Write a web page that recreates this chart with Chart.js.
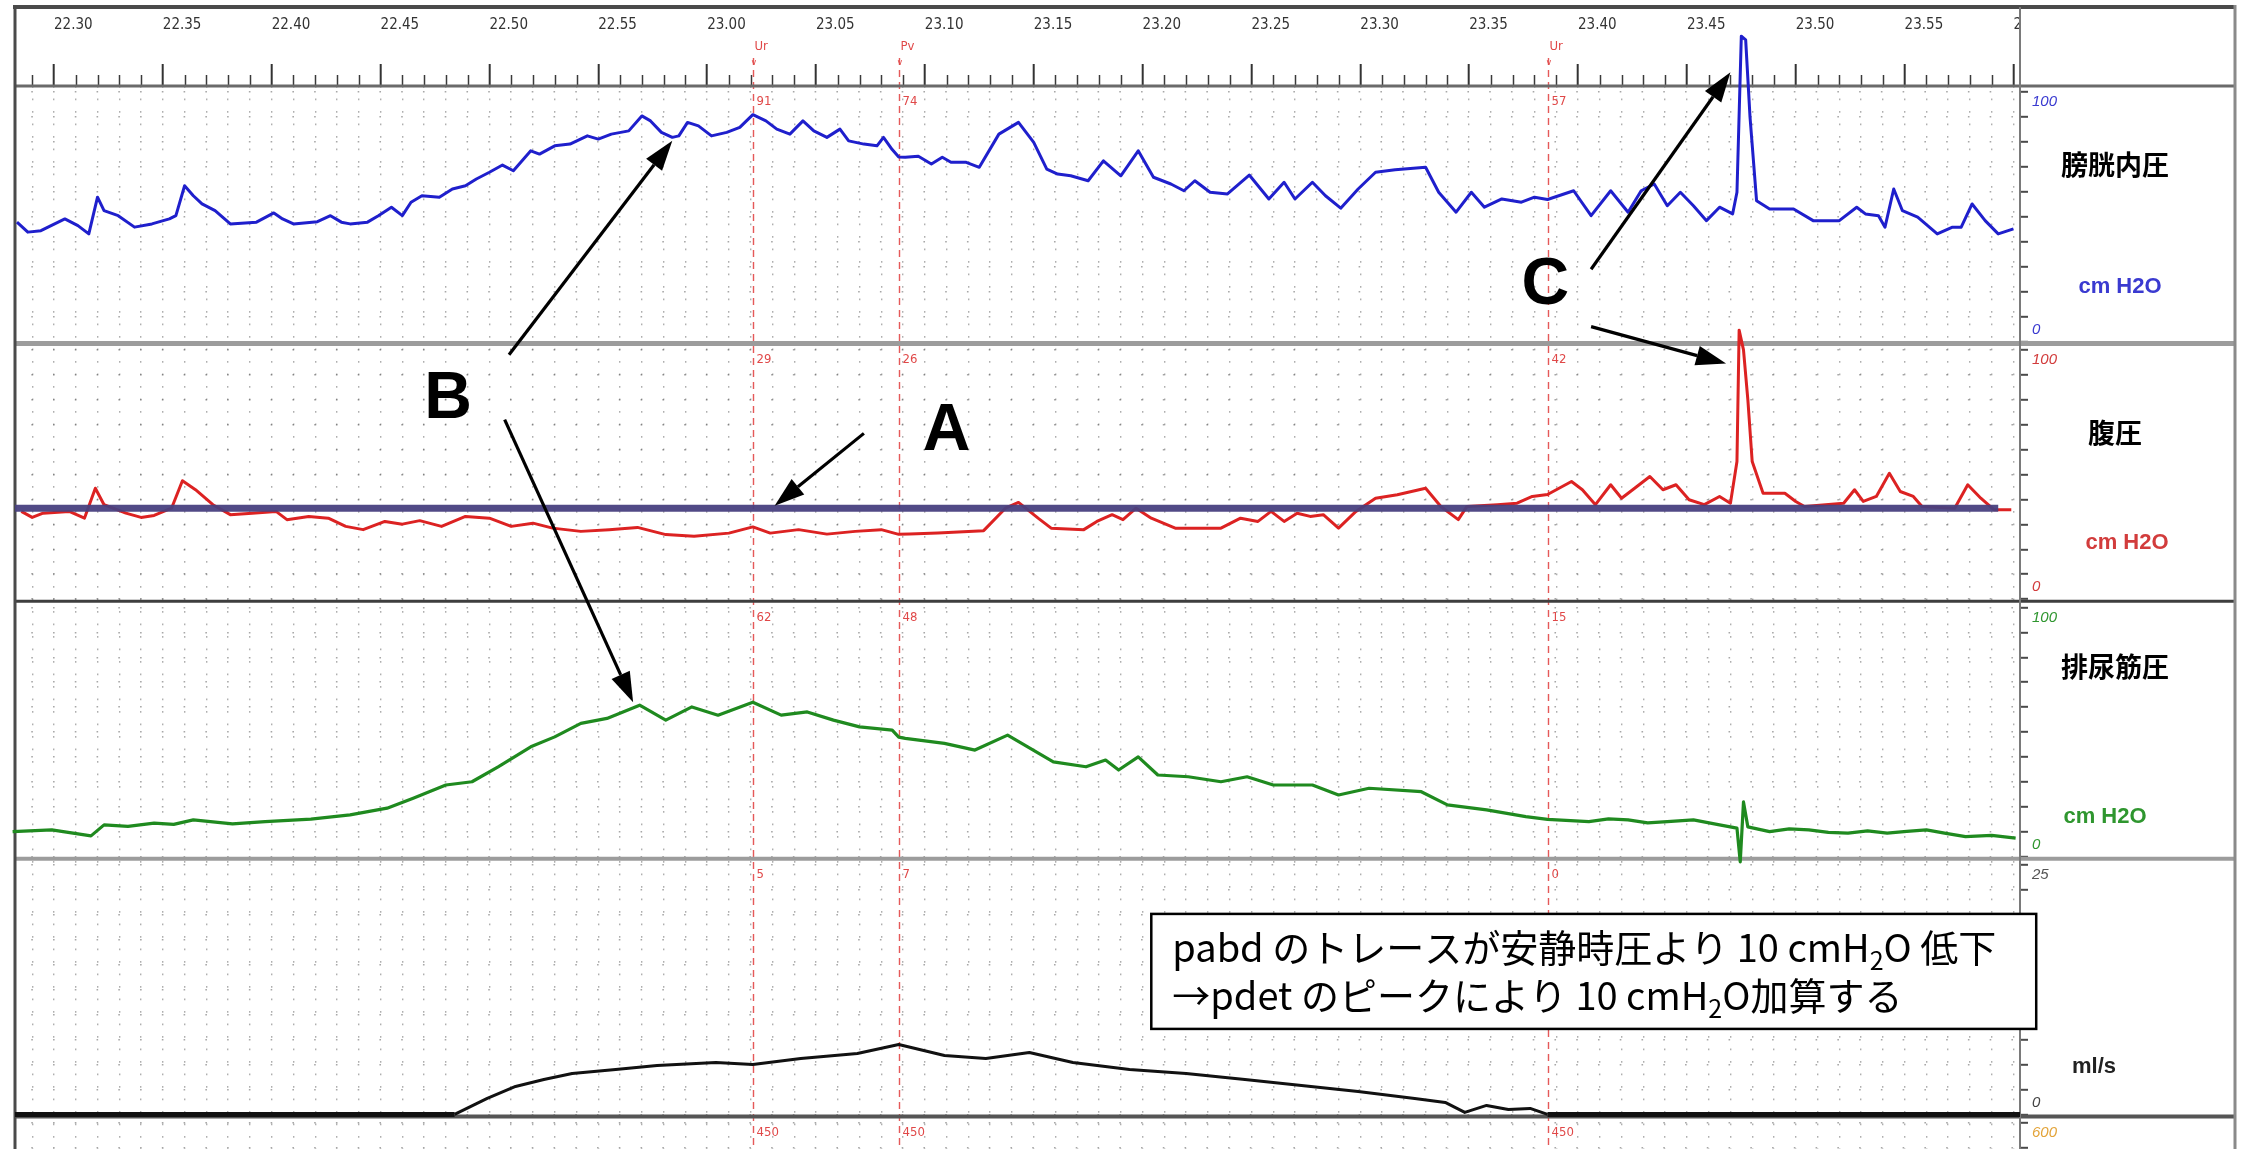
<!DOCTYPE html>
<html lang="ja">
<head>
<meta charset="utf-8">
<title>尿流動態検査 トレース</title>
<script src="https://cdn.jsdelivr.net/npm/chart.js@4.4.1/dist/chart.umd.min.js"></script>
<style>
  html, body { margin: 0; padding: 0; background: #fff; overflow: hidden; }
  #wrap { position: relative; width: 2246px; height: 1374px; }
  canvas { display: block; }
</style>
</head>
<body>
<div id="wrap"><canvas id="uds" width="2246" height="1374"></canvas></div>
<script>
// Time is in seconds from the start of the study (22.30 -> 22 min 30 s = 1350 s).
const timeRange = [1348.21, 1440.3];

// Bladder pressure (pves), cmH2O
const pvesTrace = [
  [1348.3,47.9],[1348.8,43.9],[1349.4,44.5],[1350.5,49.2],[1351.1,46.5],[1351.6,43.2],[1352.0,57.9],[1352.3,52.5],
  [1352.95,50.5],[1353.7,45.9],[1354.5,47.2],[1355.3,49.2],[1355.6,50.5],[1356.0,62.5],[1356.4,58.5],[1356.8,55.2],
  [1357.4,52.5],[1358.1,47.2],[1359.3,47.9],[1360.1,51.6],[1360.5,49.2],[1361.0,47.2],[1362.1,48.1],[1362.7,50.5],
  [1363.2,47.9],[1363.6,47.2],[1364.4,47.9],[1364.9,50.5],[1365.5,53.9],[1366.0,50.5],[1366.4,55.9],[1366.9,58.5],
  [1367.7,57.9],[1368.3,61.2],[1368.9,62.5],[1369.4,65.2],[1370.0,67.9],[1370.6,70.8],[1371.1,68.5],[1371.9,76.5],
  [1372.3,75.2],[1373.0,78.5],[1373.7,79.2],[1374.5,82.5],[1375.0,81.2],[1375.6,83.2],[1376.4,84.5],[1377.0,90.5],
  [1377.4,88.5],[1377.9,83.9],[1378.4,81.9],[1378.7,82.5],[1379.1,87.9],[1379.6,86.5],[1380.2,82.5],[1380.9,83.9],
  [1381.5,85.9],[1382.1,91],[1382.7,88.5],[1383.2,85.2],[1383.8,83.2],[1384.4,88.5],[1384.9,84.5],[1385.5,81.9],
  [1386.1,85.2],[1386.5,80.5],[1387.2,79.2],[1387.8,78.5],[1388.1,81.9],[1388.5,77],[1388.8,74],[1389.1,73.9],
  [1389.7,74.3],[1390.3,71.2],[1390.8,73.9],[1391.2,71.9],[1391.9,71.9],[1392.5,69.9],[1393.4,83.2],[1394.3,87.9],
  [1395.0,79.9],[1395.6,69.2],[1396.1,67.2],[1396.7,66.5],[1397.5,64.5],[1398.2,72.5],[1399.0,66.5],[1399.8,76.5],
  [1400.5,65.9],[1401.3,63.2],[1401.9,60.5],[1402.4,64.5],[1403.1,59.9],[1403.9,59.2],[1404.9,66.8],[1405.8,57.2],
  [1406.5,63.9],[1407.0,57.2],[1407.8,63.9],[1408.4,58.5],[1409.1,53.5],[1409.9,61.2],[1410.7,67.9],[1411.6,68.9],
  [1413.0,69.9],[1413.6,59.9],[1414.4,51.9],[1415.1,59.9],[1415.7,53.9],[1416.5,57.2],[1417.4,55.9],[1418.0,57.9],
  [1418.6,57],[1419.8,60.5],[1420.6,50.5],[1421.5,60.5],[1422.3,51.9],[1422.9,60.5],[1423.5,63.2],[1424.1,54.5],
  [1424.7,59.9],[1425.3,54.5],[1425.9,48.5],[1426.5,53.9],[1427.1,51.2],[1427.3,59.9],[1427.5,122.5],[1427.7,121],
  [1427.9,90],[1428.2,56.5],[1428.8,53.2],[1429.9,53.2],[1430.8,48.5],[1432.0,48.5],[1432.8,53.9],[1433.2,51.2],
  [1433.8,50.5],[1434.1,45.9],[1434.5,61.2],[1434.9,52.5],[1435.6,49.9],[1436.5,43.2],[1437.2,45.9],[1437.6,45.9],
  [1438.1,55.2],[1438.7,48.5],[1439.3,43.2],[1440.0,45.2]
];

// Abdominal pressure (pabd), cmH2O
const pabdTrace = [
  [1348.5,35.2],[1349.0,32.8],[1349.5,34.5],[1350.7,35.2],[1351.4,32.5],[1351.9,44.5],[1352.3,37.9],[1353.3,34.5],
  [1354.0,32.8],[1354.6,33.6],[1355.4,36.5],[1355.9,47.5],[1356.5,43.9],[1357.3,37.9],[1358.1,33.9],[1359.1,34.5],
  [1360.2,35.2],[1360.7,31.9],[1361.7,33.2],[1362.6,32.5],[1363.4,29.2],[1364.2,27.9],[1365.2,31.2],[1366.0,30.1],
  [1366.8,31.5],[1367.8,29.2],[1368.9,33.2],[1370.0,32.5],[1371.0,29.2],[1372.0,30.5],[1372.9,28.5],[1374.2,27.2],
  [1375.5,27.9],[1376.8,28.8],[1378.1,25.9],[1379.4,25.2],[1381.0,26.5],[1382.1,29],[1382.9,26.5],[1384.2,27.9],
  [1385.5,26.1],[1386.8,27.2],[1388.0,27.9],[1388.8,26],[1389.3,26.1],[1390.6,26.5],[1392.7,27.5],[1393.7,36.5],
  [1394.3,38.8],[1395.2,32.5],[1395.8,28.5],[1397.3,27.9],[1397.9,31.2],[1398.6,33.9],[1399.1,31.9],[1399.7,36.5],
  [1400.4,32.5],[1401.5,28.5],[1403.6,28.5],[1404.5,32.5],[1405.3,31.2],[1405.9,35.2],[1406.5,31.2],[1407.1,34.5],
  [1407.7,33.2],[1408.3,33.9],[1409.0,28.5],[1409.8,35.2],[1410.7,40.5],[1411.7,41.9],[1413.0,44.5],[1413.7,37.2],
  [1414.5,31.9],[1414.9,37.2],[1416.3,37.9],[1417.2,38.5],[1417.9,41.2],[1418.6,42],[1419.7,47.2],[1420.2,43.9],
  [1420.8,37.9],[1421.5,45.9],[1422.0,40.5],[1422.6,44.5],[1423.3,49.2],[1423.9,43.9],[1424.5,45.9],[1425.1,39.9],
  [1425.8,37.9],[1426.5,41.2],[1427.0,38.5],[1427.3,55.2],[1427.4,107.9],[1427.6,100],[1427.8,80],[1428.0,55.2],
  [1428.5,42.5],[1429.5,42.5],[1430.0,39.2],[1430.4,37.2],[1432.2,38.5],[1432.7,43.9],[1433.1,39.2],[1433.7,41.2],
  [1434.3,50.5],[1434.8,43.2],[1435.4,41.2],[1435.8,37.2],[1437.3,36.5],[1437.9,45.9],[1438.5,40.5],[1439.1,35.9],
  [1439.9,35.9]
];

// Resting abdominal pressure reference line
const pabdRestLevel = 36.5;
const pabdRestSpan = [1348.21, 1439.3];

// Detrusor pressure (pdet), cmH2O
const pdetTrace = [
  [1348.1,10.1],[1349.9,10.8],[1351.7,8.4],[1352.3,12.8],[1353.4,12.2],[1354.6,13.5],[1355.5,13.0],[1356.4,14.8],
  [1358.2,13.2],[1359.7,14.1],[1361.8,15.1],[1363.6,16.8],[1365.3,19.5],[1366.5,23.5],[1368.0,28.8],[1369.2,30.1],
  [1370.4,36.1],[1371.9,44.1],[1373.0,48.1],[1374.2,53.5],[1375.4,55.5],[1376.9,60.8],[1378.1,54.8],[1379.3,60.1],
  [1380.5,56.8],[1382.1,62],[1383.4,56.8],[1384.6,58.1],[1385.8,54.8],[1387.0,52.1],[1388.5,50.8],[1388.8,48],
  [1389.1,47.5],[1390.9,45.5],[1392.3,42.8],[1393.8,48.8],[1395.9,38.1],[1397.4,36.1],[1398.3,38.8],[1398.9,34.8],
  [1399.8,40.1],[1400.7,32.8],[1402.1,32.1],[1403.6,30.1],[1404.8,32.1],[1406.0,28.8],[1407.8,28.8],[1409.0,24.8],
  [1410.4,27.5],[1412.8,26.1],[1414.0,20.8],[1415.8,18.8],[1417.6,16.1],[1418.6,15],[1420.5,14.1],[1421.4,15.2],
  [1422.3,14.8],[1423.2,13.6],[1424.1,14.1],[1425.3,14.8],[1426.5,12.8],[1427.3,11.5],[1427.45,-2],[1427.6,22],
  [1427.8,12],[1428.8,10.1],[1429.7,11.2],[1430.6,10.8],[1431.5,9.8],[1432.4,9.5],[1433.3,10.4],[1434.2,9.5],
  [1435.1,10.2],[1436.0,10.8],[1436.9,9.4],[1437.8,8.1],[1439.0,8.6],[1440.1,7.5]
];

// Urine flow, ml/s
const flowTrace = [
  [1348.21,0],[1368.4,0],[1369.9,1.6],[1371.2,2.8],[1372.5,3.5],[1373.8,4.1],[1375.8,4.5],[1377.7,4.9],
  [1380.4,5.2],[1382.1,5],[1384.3,5.6],[1386.9,6.1],[1388.8,7],[1390.9,5.9],[1392.8,5.6],[1394.8,6.2],
  [1396.8,5.2],[1399.4,4.5],[1402.0,4.1],[1404.7,3.5],[1407.3,2.9],[1409.9,2.3],[1412.5,1.6],[1413.9,1.2],
  [1414.8,0.2],[1415.8,0.9],[1416.8,0.5],[1417.8,0.6],[1418.6,0],[1419.4,0],[1440.3,0]
];

// Event markers and the values printed at each marker
const markerTimes = [1382.1, 1388.8, 1418.6];
const markerTags = ['Ur', 'Pv', 'Ur'];
const markerPves = [91, 74, 57];
const markerPabd = [29, 26, 42];
const markerPdet = [62, 48, 15];
const markerFlow = [5, 7, 0];
const markerVolume = [450, 450, 450];

// Channel captions in the right-hand column
const channelNames = ['膀胱内圧', '腹圧', '排尿筋圧', '', ''];
const channelUnits = ['cm H2O', 'cm H2O', 'cm H2O', 'ml/s', ''];
const channelTopLabels = ['100', '100', '100', '25', '600'];
const channelZeroLabels = ['0', '0', '0', '0', ''];

// Callout annotations, positioned in data space: [time, value, axis]
const calloutLetters = [
  { text: 'A', at: [1391.0, 68.5, 'yPabd'] },
  { text: 'B', at: [1368.1, 81, 'yPabd'] },
  { text: 'C', at: [1418.5, 23.5, 'yPves'] }
];
const calloutArrows = [
  { from: [1387.2, 66.5, 'yPabd'], to: [1383.1, 37.5, 'yPabd'] },
  { from: [1370.9, 98, 'yPabd'], to: [1378.4, 80.5, 'yPves'] },
  { from: [1370.7, 72, 'yPabd'], to: [1376.6, 62, 'yPdet'] },
  { from: [1420.6, 29, 'yPves'], to: [1427.0, 108, 'yPves'] },
  { from: [1420.6, 6, 'yPves'], to: [1426.8, 94.5, 'yPabd'] }
];
const noteLines = [
  ['pabd のトレースが安静時圧より 10 cmH', '2', 'O 低下'],
  ['→pdet のピークにより 10 cmH', '2', 'O加算する']
];
const noteAnchor = [1400.4, 20.1, 'yFlow'];

// ---------------------------------------------------------------------------
const toXY = arr => arr.map(p => ({ x: p[0], y: p[1] }));
const fmtTime = s => {
  const m = Math.floor(s / 60);
  const r = Math.round(s - m * 60);
  return m + '.' + String(r).padStart(2, '0');
};
const NARROW = "'Liberation Sans Narrow', 'DejaVu Sans Condensed', 'Liberation Sans', sans-serif";
const RIGHT_COL = 215;
const panelIds = ['yPves', 'yPabd', 'yPdet', 'yFlow', 'yVol'];
const channelColors = ['#3a3ad0', '#d23c3c', '#2f962f', '#222', '#e3a43a'];
const panelMarkerValues = [markerPves, markerPabd, markerPdet, markerFlow, markerVolume];

function panelAxis(min, max, step) {
  return {
    type: 'linear', position: 'right', stack: 'panels', stackWeight: 1,
    min, max, offset: false,
    ticks: { display: false, stepSize: step, includeBounds: false },
    grid: {
      color: 'rgba(95,95,95,0.55)', lineWidth: 1.6,
      drawTicks: true, tickLength: 8, tickColor: '#4a4a4a', tickWidth: 2
    },
    border: { display: true, color: '#7a7a7a', width: 2, dash: [1.6, 20.16], dashOffset: 5.5 },
    afterFit(scale) { scale.width = RIGHT_COL; }
  };
}

function pt(chart, p) {
  return [chart.scales.x.getPixelForValue(p[0]), chart.scales[p[2]].getPixelForValue(p[1])];
}

function arrow(ctx, a, b) {
  const ang = Math.atan2(b[1] - a[1], b[0] - a[0]);
  const hl = 30, hw = 10;
  const bx = b[0] - hl * Math.cos(ang), by = b[1] - hl * Math.sin(ang);
  ctx.beginPath();
  ctx.moveTo(a[0], a[1]);
  ctx.lineTo(bx, by);
  ctx.stroke();
  ctx.beginPath();
  ctx.moveTo(b[0], b[1]);
  ctx.lineTo(bx + hw * Math.sin(ang), by - hw * Math.cos(ang));
  ctx.lineTo(bx - hw * Math.sin(ang), by + hw * Math.cos(ang));
  ctx.closePath();
  ctx.fill();
}

const traceDecor = {
  id: 'traceDecor',
  beforeDatasetsDraw(chart) {
    const { ctx, chartArea: ca, scales } = chart;
    const x = scales.x;
    const frameRight = ca.right + RIGHT_COL;
    ctx.save();

    // keep the time labels inside the trace column
    ctx.fillStyle = '#fff';
    ctx.fillRect(ca.right + 1, 10, frameRight - ca.right - 1, ca.top - 12);

    // one-second minor ticks on the time strip
    ctx.strokeStyle = '#3a3a3a';
    ctx.lineWidth = 1.5;
    for (let s = Math.ceil(x.min); s <= x.max; s++) {
      if (s % 5 === 0) continue;
      const px = Math.round(x.getPixelForValue(s)) + 0.5;
      ctx.beginPath(); ctx.moveTo(px, ca.top - 11); ctx.lineTo(px, ca.top); ctx.stroke();
    }

    // event markers
    markerTimes.forEach((t, j) => {
      const px = Math.round(x.getPixelForValue(t)) + 0.5;
      ctx.setLineDash([7, 5]);
      ctx.strokeStyle = 'rgba(222,48,48,0.8)';
      ctx.lineWidth = 1.4;
      ctx.beginPath(); ctx.moveTo(px, 58); ctx.lineTo(px, chart.height); ctx.stroke();
      ctx.setLineDash([]);
      ctx.fillStyle = '#e04848';
      ctx.font = '13px ' + NARROW;
      ctx.textAlign = 'left';
      ctx.textBaseline = 'middle';
      ctx.fillText(markerTags[j], px + 1, 47);
      ctx.font = '9px ' + NARROW;
      ctx.fillText('v', px - 2, 63);
      ctx.font = '13px ' + NARROW;
      panelIds.forEach((id, i) => {
        const sc = scales[id];
        ctx.fillText(String(panelMarkerValues[i][j]), px + 3, sc.top + 16);
      });
    });

    // panel separators
    const sepStyles = [
      ['#6a6a6a', 3], ['#9c9c9c', 5], ['#3e3e3e', 3], ['#9c9c9c', 4], ['#555', 4]
    ];
    panelIds.forEach((id, i) => {
      const y = scales[id].top;
      ctx.strokeStyle = sepStyles[i][0];
      ctx.lineWidth = sepStyles[i][1];
      ctx.beginPath(); ctx.moveTo(ca.left, y); ctx.lineTo(frameRight, y); ctx.stroke();
    });

    // outer frame
    ctx.strokeStyle = '#4a4a4a'; ctx.lineWidth = 4;
    ctx.beginPath(); ctx.moveTo(ca.left - 2, 7); ctx.lineTo(frameRight + 1, 7); ctx.stroke();
    ctx.lineWidth = 3;
    ctx.beginPath(); ctx.moveTo(ca.left, 5); ctx.lineTo(ca.left, chart.height); ctx.stroke();
    ctx.strokeStyle = '#7a7a7a'; ctx.lineWidth = 2;
    ctx.beginPath(); ctx.moveTo(ca.right, 7); ctx.lineTo(ca.right, chart.height); ctx.stroke();
    ctx.strokeStyle = '#8a8a8a'; ctx.lineWidth = 3;
    ctx.beginPath(); ctx.moveTo(frameRight, 5); ctx.lineTo(frameRight, chart.height); ctx.stroke();

    // right-hand captions
    const nameDy = [79, 89, 66];
    const unitDy = [201, 199, 216, 208];
    const unitDx = [100, 107, 85, 74];
    panelIds.forEach((id, i) => {
      const sc = scales[id];
      const col = channelColors[i];
      const top = sc.getPixelForValue(sc.ticks[sc.ticks.length - 1].value);
      ctx.textAlign = 'left';
      ctx.textBaseline = 'middle';
      ctx.fillStyle = i === 3 ? '#555' : col;
      ctx.font = 'italic 15px "Liberation Sans", sans-serif';
      ctx.fillText(channelTopLabels[i], ca.right + 12, top + 10);
      if (channelZeroLabels[i]) {
        ctx.fillStyle = i === 3 ? '#444' : col;
        ctx.fillText(channelZeroLabels[i], ca.right + 12, sc.getPixelForValue(0) - 12);
      }
      if (channelNames[i]) {
        ctx.fillStyle = '#000';
        ctx.textAlign = 'center';
        ctx.font = 'bold 27px "Noto Sans CJK JP", sans-serif';
        ctx.fillText(channelNames[i], ca.right + 95, sc.top + nameDy[i]);
      }
      if (channelUnits[i]) {
        ctx.fillStyle = col;
        ctx.textAlign = 'center';
        ctx.font = 'bold 22px "Liberation Sans", sans-serif';
        ctx.fillText(channelUnits[i], ca.right + unitDx[i], sc.top + unitDy[i]);
      }
    });
    ctx.restore();
  },
  afterDraw(chart) {
    const { ctx } = chart;
    ctx.save();
    // arrows and letters
    ctx.strokeStyle = '#000';
    ctx.fillStyle = '#000';
    ctx.lineWidth = 3.2;
    calloutArrows.forEach(a => arrow(ctx, pt(chart, a.from), pt(chart, a.to)));
    ctx.font = 'bold 66px "Liberation Sans", Arial, sans-serif';
    ctx.textAlign = 'center';
    ctx.textBaseline = 'middle';
    calloutLetters.forEach(l => {
      const p = pt(chart, l.at);
      ctx.fillText(l.text, p[0], p[1] + 3);
    });

    // note box
    const [bx, by] = pt(chart, noteAnchor);
    const mainFont = '38px "Noto Sans CJK JP", sans-serif';
    const subFont = '25px "Noto Sans CJK JP", sans-serif';
    const widthOf = parts => parts.reduce((w, s, k) => {
      ctx.font = k === 1 ? subFont : mainFont;
      return w + ctx.measureText(s).width;
    }, 0);
    const textW = Math.max(...noteLines.map(widthOf));
    const padL = 21, padR = 40, lineH = 48;
    const boxW = textW + padL + padR, boxH = lineH * noteLines.length + 19;
    ctx.fillStyle = '#fff';
    ctx.fillRect(bx, by, boxW, boxH);
    ctx.strokeStyle = '#000';
    ctx.lineWidth = 2.5;
    ctx.strokeRect(bx, by, boxW, boxH);
    ctx.fillStyle = '#000';
    ctx.textAlign = 'left';
    ctx.textBaseline = 'alphabetic';
    noteLines.forEach((parts, li) => {
      let cx = bx + padL;
      const base = by + 10 + lineH * li + 38;
      parts.forEach((s, k) => {
        ctx.font = k === 1 ? subFont : mainFont;
        ctx.fillText(s, cx, k === 1 ? base + 8 : base);
        cx += ctx.measureText(s).width;
      });
    });
    ctx.restore();
  }
};

new Chart(document.getElementById('uds'), {
  type: 'line',
  data: {
    datasets: [
      { label: 'rest', data: toXY([[pabdRestSpan[0], pabdRestLevel], [pabdRestSpan[1], pabdRestLevel]]),
        yAxisID: 'yPabd', borderColor: 'rgba(72,64,128,0.95)', borderWidth: 7, pointRadius: 0, borderCapStyle: 'butt' },
      { label: 'pves', data: toXY(pvesTrace), yAxisID: 'yPves', borderColor: '#1f1fcc', borderWidth: 3,
        pointRadius: 0, clip: false },
      { label: 'pabd', data: toXY(pabdTrace), yAxisID: 'yPabd', borderColor: '#dc2222', borderWidth: 3,
        pointRadius: 0, clip: false },
      { label: 'pdet', data: toXY(pdetTrace), yAxisID: 'yPdet', borderColor: '#1f8a1f', borderWidth: 3.2,
        pointRadius: 0, clip: false },
      { label: 'flow', data: toXY(flowTrace), yAxisID: 'yFlow', borderColor: '#111', borderWidth: 3,
        pointRadius: 0, clip: false,
        segment: { borderWidth: c => (c.p0.parsed.y === 0 && c.p1.parsed.y === 0) ? 5 : 3 } }
    ]
  },
  options: {
    responsive: false,
    animation: false,
    devicePixelRatio: 1,
    layout: { padding: { left: 15, right: 11, top: 0, bottom: 0 } },
    plugins: { legend: { display: false }, tooltip: { enabled: false } },
    elements: { line: { tension: 0, borderJoinStyle: 'round' } },
    scales: {
      x: {
        type: 'linear', position: 'top',
        min: timeRange[0], max: timeRange[1],
        afterFit(scale) { scale.height = 86; },
        ticks: {
          stepSize: 1, autoSkip: false, maxRotation: 0, includeBounds: false, align: 'start', padding: 30,
          color: '#333', font: { family: NARROW, size: 15 },
          callback: v => (Math.round(v) % 5 === 0 ? fmtTime(v) : '')
        },
        grid: {
          color: 'rgba(95,95,95,0.5)', lineWidth: 1.4,
          drawTicks: true, tickLength: 22, tickWidth: 2,
          tickColor: c => (c.tick && Math.round(c.tick.value) % 5 === 0 ? '#333' : 'rgba(0,0,0,0)')
        },
        border: { display: false, dash: [1.8, 10.7] }
      },
      yPves: panelAxis(-0.8, 102.5, 10),
      yPabd: panelAxis(-0.8, 102.5, 10),
      yPdet: panelAxis(-0.8, 102.5, 10),
      yFlow: panelAxis(-0.2, 25.625, 2.5),
      yVol: panelAxis(-4.8, 615, 60)
    }
  },
  plugins: [traceDecor]
});
</script>
</body>
</html>
